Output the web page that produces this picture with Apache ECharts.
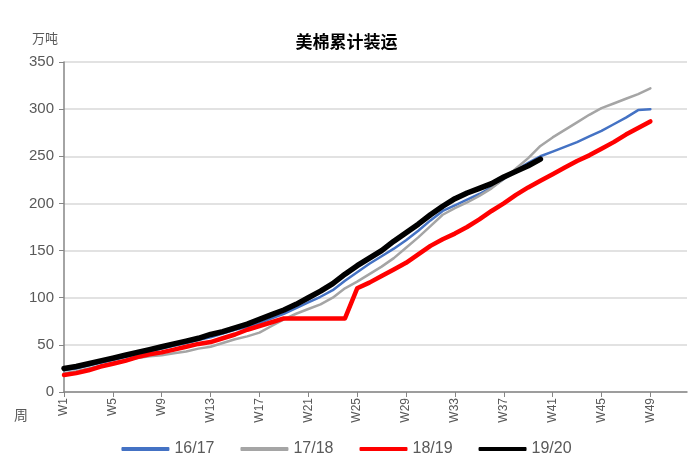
<!DOCTYPE html>
<html><head><meta charset="utf-8">
<script src="https://cdn.jsdelivr.net/npm/echarts@6/dist/echarts.min.js"></script>
<style>html,body{margin:0;padding:0;background:#fff}#c{width:693px;height:464px}</style>
</head><body><div id="c"></div>
<script>
const weeks = Array.from({length: 52}, (_, i) => 'W' + (i + 1));
const yTicks = [0, 50, 100, 150, 200, 250, 300, 350];
const s1617 = [23,25,28,31,34,37,40,43,46,49,52,55,58,62,66,69,73,78,83,89,95,101,108,118,127,136,144,152,161,171,182,192,198,204,210,217,226,235,243,250,255,260,265,271,277,284,291,299,300];
const s1718 = [20,22,25,28,31,34,36,38,39,41,43,46,48,52,56,59,63,70,77,83,88,93,100,110,117,125,133,142,153,164,176,188,195,201,208,216,226,237,248,261,270,278,286,294,301,306,311,316,322];
const s1819 = [18,20,23,27,30,33,37,40,42,45,48,51,53,57,61,66,70,74,78,78,78,78,78,78,110,116,123,130,137,146,155,162,168,175,183,192,200,209,217,224,231,238,245,251,258,265,273,280,287];
const s1920 = [25,27,30,33,36,39,42,45,48,51,54,57,61,64,68,72,77,82,87,93,100,107,115,125,134,142,150,160,169,178,188,197,205,211,216,221,228,234,240,247];
const seriesNames = ['16/17','17/18','18/19','19/20'];

const chart = echarts.init(document.getElementById('c'));
const mk = (name, data, color, width) => ({
  name, type: 'line', data, showSymbol: false, symbol: 'none',
  lineStyle: {color, width, join: 'round', cap: 'round'}, itemStyle: {color},
  animation: false
});
chart.setOption({
  animation: false,
  title: {text: '美棉累计装运', left: 'center', top: 28,
    textStyle: {fontFamily: 'Noto Sans CJK SC', fontWeight: 'bold', fontSize: 17, color: '#000'}},
  grid: {left: 64, right: 6, top: 62, bottom: 72},
  legend: {bottom: 2, left: 'center', itemWidth: 48, itemHeight: 4, itemGap: 26,
    icon: 'roundRect',
    textStyle: {fontFamily: 'Liberation Sans Narrow, Liberation Sans', fontSize: 16, color: '#595959'},
    data: seriesNames},
  graphic: [
    {type: 'text', left: 32, top: 32, style: {text: '万吨', font: '13px "Noto Sans CJK SC"', fill: '#595959'}},
    {type: 'text', left: 14, top: 408, style: {text: '周', font: '14px "Noto Sans CJK SC"', fill: '#595959'}}
  ],
  xAxis: {type: 'category', data: weeks, boundaryGap: false,
    axisLine: {lineStyle: {color: '#868686', width: 1.5}},
    axisTick: {show: true, interval: 3, length: 5, lineStyle: {color: '#868686'}},
    axisLabel: {interval: 3, rotate: 90, fontSize: 12, color: '#595959', fontFamily: 'Liberation Sans', margin: 6},
    splitLine: {show: false}},
  yAxis: {type: 'value', min: yTicks[0], max: yTicks[yTicks.length - 1], interval: 50,
    axisLine: {show: true, lineStyle: {color: '#868686', width: 1.5}},
    axisTick: {show: true, length: 5, inside: false, lineStyle: {color: '#868686'}},
    axisLabel: {fontSize: 15, color: '#595959', fontFamily: 'Liberation Sans', margin: 10},
    splitLine: {lineStyle: {color: '#D9D9D9', width: 1.5}}},
  series: [
    mk('16/17', s1617, '#4472C4', 2.5),
    mk('17/18', s1718, '#A5A5A5', 2.5),
    mk('18/19', s1819, '#FF0000', 4.5),
    mk('19/20', s1920, '#000000', 5.5)
  ]
});
</script></body></html>
